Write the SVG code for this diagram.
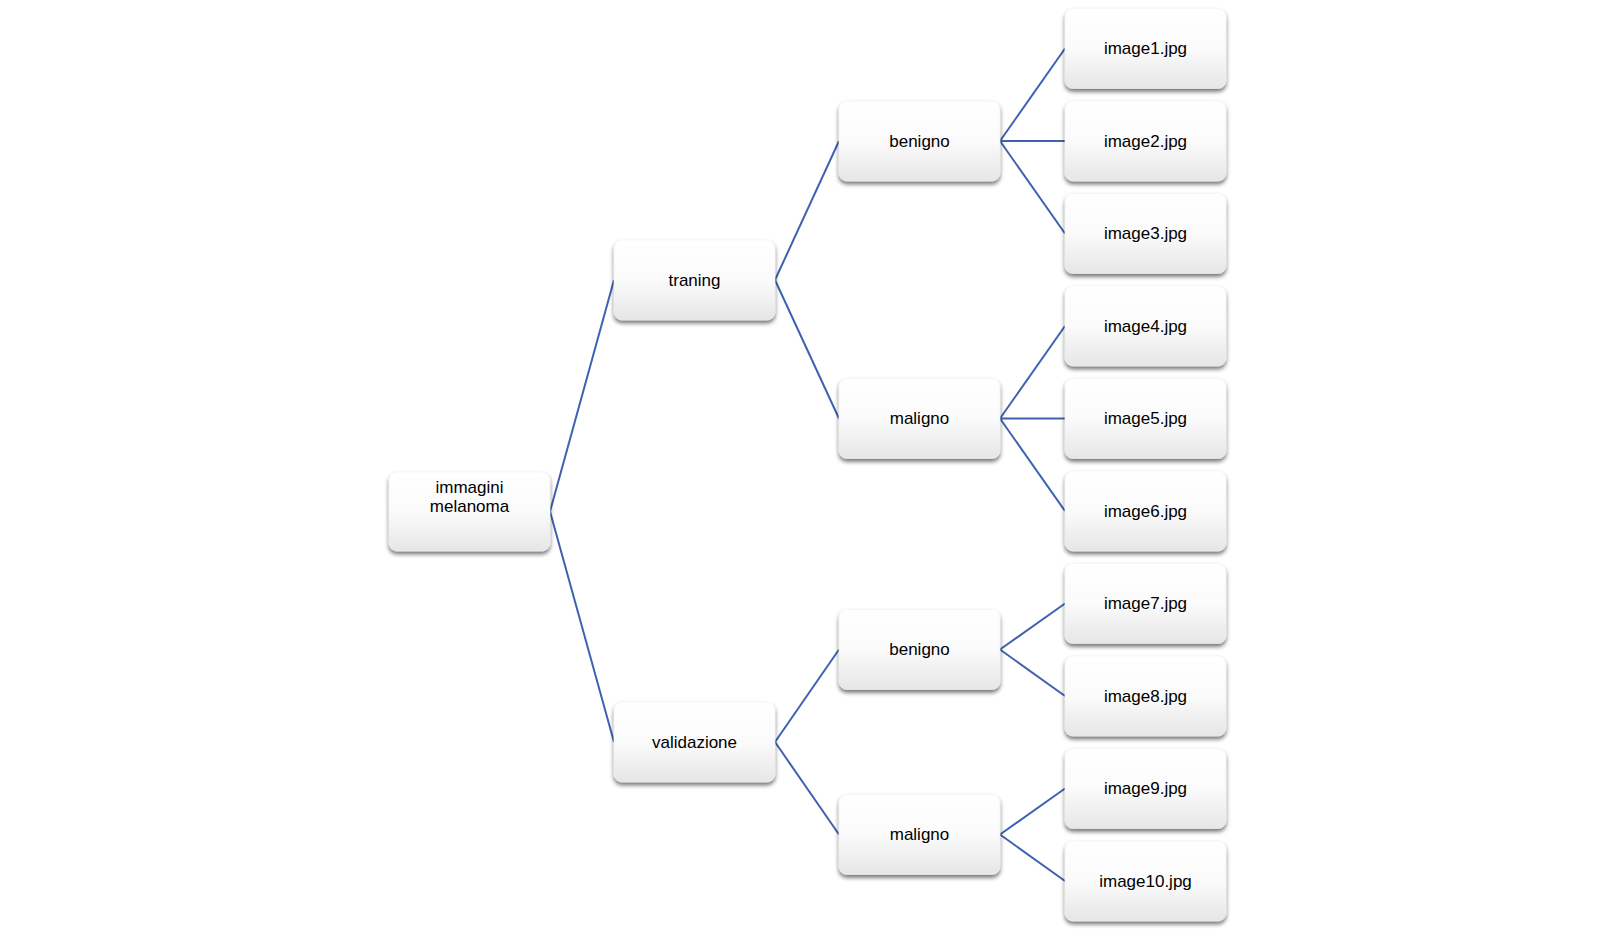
<svg xmlns="http://www.w3.org/2000/svg" width="1616" height="935" viewBox="0 0 1616 935">
<defs>
<linearGradient id="g" x1="0" y1="0" x2="0" y2="1">
<stop offset="0" stop-color="#ffffff"/>
<stop offset="0.5" stop-color="#fbfbfb"/>
<stop offset="1" stop-color="#e6e6e6"/>
</linearGradient>
<filter id="sh" x="-10%" y="-10%" width="120%" height="130%">
<feGaussianBlur in="SourceAlpha" stdDeviation="2"/>
<feOffset dx="0" dy="3" result="b"/>
<feComponentTransfer><feFuncA type="linear" slope="0.55"/></feComponentTransfer>
<feMerge><feMergeNode/><feMergeNode in="SourceGraphic"/></feMerge>
</filter>
</defs>
<style>
.box{fill:url(#g);filter:url(#sh);stroke:#eeeeee;stroke-width:0.5}
.t{font-family:"Liberation Sans",Arial,sans-serif;font-size:17px;fill:#000;text-anchor:middle;dominant-baseline:central}
.c{stroke:#3d62b0;stroke-width:2;fill:none}
</style>
<g id="connectors">
<line class="c" x1="550" y1="511.5" x2="614" y2="280"/>
<line class="c" x1="550" y1="511.5" x2="614" y2="742"/>
<line class="c" x1="775" y1="280" x2="839" y2="141"/>
<line class="c" x1="775" y1="280" x2="839" y2="418.5"/>
<line class="c" x1="775" y1="742" x2="839" y2="649.5"/>
<line class="c" x1="775" y1="742" x2="839" y2="834.5"/>
<line class="c" x1="1000" y1="141" x2="1065" y2="48.5"/>
<line class="c" x1="1000" y1="141" x2="1065" y2="141"/>
<line class="c" x1="1000" y1="141" x2="1065" y2="233.5"/>
<line class="c" x1="1000" y1="418.5" x2="1065" y2="326"/>
<line class="c" x1="1000" y1="418.5" x2="1065" y2="418.5"/>
<line class="c" x1="1000" y1="418.5" x2="1065" y2="511"/>
<line class="c" x1="1000" y1="649.5" x2="1065" y2="603.5"/>
<line class="c" x1="1000" y1="649.5" x2="1065" y2="696"/>
<line class="c" x1="1000" y1="834.5" x2="1065" y2="788.5"/>
<line class="c" x1="1000" y1="834.5" x2="1065" y2="881"/>
</g>
<g id="root"><rect class="box" x="389" y="472" width="161" height="79" rx="8"/><text class="t" x="469.5" y="487">immagini</text><text class="t" x="469.5" y="506.5">melanoma</text></g>
<g id="traning"><rect class="box" x="614" y="240" width="161" height="80" rx="8"/><text class="t" x="694.5" y="280">traning</text></g>
<g id="validazione"><rect class="box" x="614" y="702" width="161" height="80" rx="8"/><text class="t" x="694.5" y="742">validazione</text></g>
<g id="benigno1"><rect class="box" x="839" y="101" width="161" height="80" rx="8"/><text class="t" x="919.5" y="141">benigno</text></g>
<g id="maligno1"><rect class="box" x="839" y="378.5" width="161" height="80" rx="8"/><text class="t" x="919.5" y="418.5">maligno</text></g>
<g id="benigno2"><rect class="box" x="839" y="609.5" width="161" height="80" rx="8"/><text class="t" x="919.5" y="649.5">benigno</text></g>
<g id="maligno2"><rect class="box" x="839" y="794.5" width="161" height="80" rx="8"/><text class="t" x="919.5" y="834.5">maligno</text></g>
<g id="image1"><rect class="box" x="1065" y="8.5" width="161" height="80" rx="8"/><text class="t" x="1145.5" y="48.5">image1.jpg</text></g>
<g id="image2"><rect class="box" x="1065" y="101" width="161" height="80" rx="8"/><text class="t" x="1145.5" y="141">image2.jpg</text></g>
<g id="image3"><rect class="box" x="1065" y="193.5" width="161" height="80" rx="8"/><text class="t" x="1145.5" y="233.5">image3.jpg</text></g>
<g id="image4"><rect class="box" x="1065" y="286" width="161" height="80" rx="8"/><text class="t" x="1145.5" y="326">image4.jpg</text></g>
<g id="image5"><rect class="box" x="1065" y="378.5" width="161" height="80" rx="8"/><text class="t" x="1145.5" y="418.5">image5.jpg</text></g>
<g id="image6"><rect class="box" x="1065" y="471" width="161" height="80" rx="8"/><text class="t" x="1145.5" y="511">image6.jpg</text></g>
<g id="image7"><rect class="box" x="1065" y="563.5" width="161" height="80" rx="8"/><text class="t" x="1145.5" y="603.5">image7.jpg</text></g>
<g id="image8"><rect class="box" x="1065" y="656" width="161" height="80" rx="8"/><text class="t" x="1145.5" y="696">image8.jpg</text></g>
<g id="image9"><rect class="box" x="1065" y="748.5" width="161" height="80" rx="8"/><text class="t" x="1145.5" y="788.5">image9.jpg</text></g>
<g id="image10"><rect class="box" x="1065" y="841" width="161" height="80" rx="8"/><text class="t" x="1145.5" y="881">image10.jpg</text></g>
</svg>
